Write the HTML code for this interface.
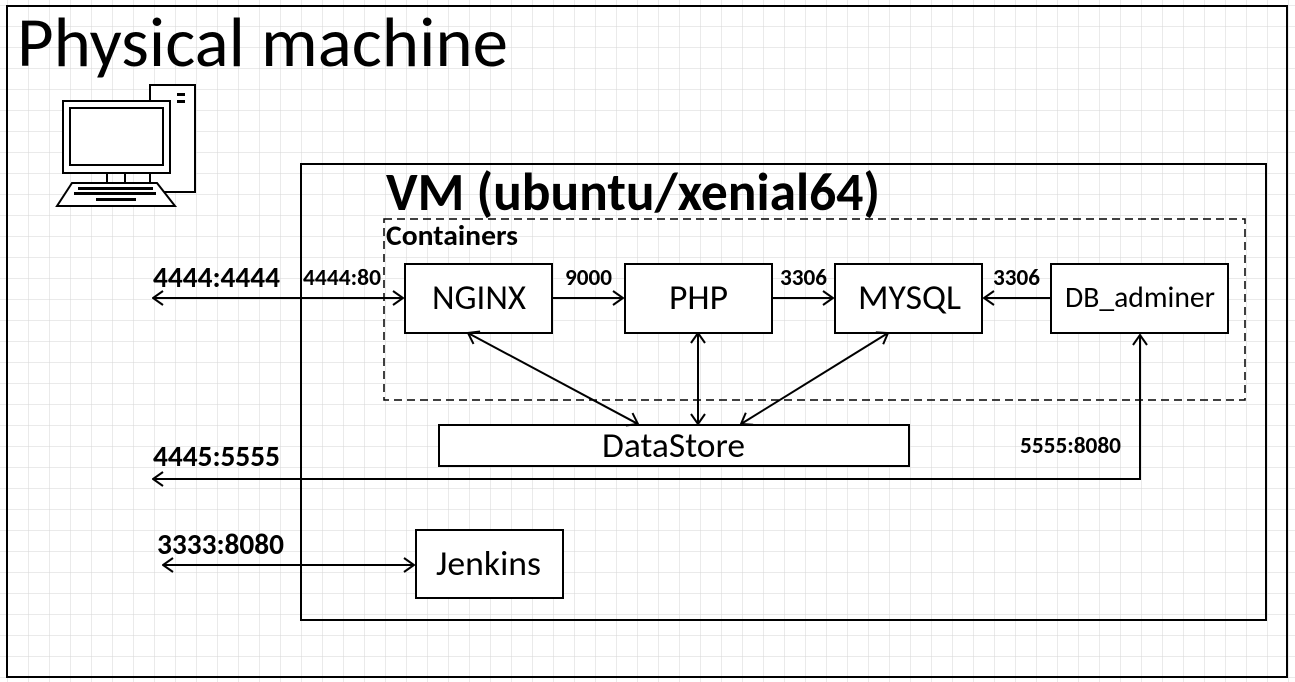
<!DOCTYPE html>
<html><head><meta charset="utf-8"><style>
html,body{margin:0;padding:0;background:#fff}
svg{display:block}
text{font-family:Carlito,"Liberation Sans",sans-serif;fill:#000}
</style></head><body>
<svg width="1295" height="682" viewBox="0 0 1295 682" xmlns="http://www.w3.org/2000/svg">
<defs>
<pattern id="g" x="7" y="5" width="21" height="21" patternUnits="userSpaceOnUse">
<path d="M0 0H21M0 0V21" stroke="#d6d6d6" stroke-width="1" fill="none"/>
</pattern>
<marker id="a" viewBox="0 0 12 16" refX="11" refY="8" markerWidth="12" markerHeight="16" markerUnits="userSpaceOnUse" orient="auto-start-reverse">
<path d="M1 1L11 8L1 15" fill="none" stroke="#000" stroke-width="2"/>
</marker>
</defs>
<rect width="1295" height="682" fill="#fff"/>
<rect width="1295" height="682" fill="url(#g)"/>
<rect x="7" y="6" width="1280" height="671" fill="none" stroke="#000" stroke-width="2"/>
<text x="17" y="66" font-size="70" textLength="491" lengthAdjust="spacingAndGlyphs">Physical machine</text>
<g fill="none" stroke="#000" stroke-width="2">
<rect x="150" y="85" width="45" height="107" fill="#fff"/>
<rect x="63" y="101" width="107" height="72" fill="#fff"/>
<rect x="70" y="108" width="93" height="57"/>
<path d="M107 173V183M125 173V183M150 173V183"/>
<path d="M72 183H157L175 206H57Z" fill="#fff"/>
</g>
<rect x="177" y="93" width="8" height="3"/><rect x="177" y="100" width="8" height="3"/>
<g fill="#000"><rect x="78" y="187" width="75" height="3"/><rect x="74" y="192" width="82" height="3"/><rect x="96" y="198" width="40" height="3"/></g>
<rect x="301" y="164" width="965" height="456" fill="none" stroke="#000" stroke-width="2"/>
<text x="386" y="210" font-size="54" font-weight="bold" textLength="494" lengthAdjust="spacingAndGlyphs">VM (ubuntu/xenial64)</text>
<rect x="384" y="219" width="861" height="181" fill="none" stroke="#000" stroke-width="1.5" stroke-dasharray="8,5"/>
<text x="386" y="245" font-size="28" font-weight="bold" textLength="132" lengthAdjust="spacingAndGlyphs">Containers</text>
<g fill="#fff" stroke="#000" stroke-width="2">
<rect x="405" y="264" width="147" height="69"/>
<rect x="625" y="264" width="147" height="69"/>
<rect x="835" y="264" width="147" height="69"/>
<rect x="1051" y="264" width="177" height="69"/>
<rect x="439" y="425" width="470" height="41"/>
<rect x="416" y="530" width="147" height="68"/>
</g>
<g font-size="35">
<text x="432" y="309" textLength="94" lengthAdjust="spacingAndGlyphs">NGINX</text>
<text x="669" y="309" textLength="59" lengthAdjust="spacingAndGlyphs">PHP</text>
<text x="858" y="309" textLength="103" lengthAdjust="spacingAndGlyphs">MYSQL</text>
<text x="1065" y="307" font-size="30" textLength="150" lengthAdjust="spacingAndGlyphs">DB_adminer</text>
<text x="602" y="457" textLength="143" lengthAdjust="spacingAndGlyphs">DataStore</text>
<text x="436" y="575" textLength="105" lengthAdjust="spacingAndGlyphs">Jenkins</text>
</g>
<g stroke="#000" stroke-width="2" fill="none">
<path d="M153 298H403" marker-start="url(#a)" marker-end="url(#a)"/>
<path d="M552 298H623" marker-end="url(#a)"/>
<path d="M772 298H833" marker-end="url(#a)"/>
<path d="M1051 298H984" marker-end="url(#a)"/>
<path d="M468 333L638 424" marker-start="url(#a)" marker-end="url(#a)"/>
<path d="M698 333V424" marker-start="url(#a)" marker-end="url(#a)"/>
<path d="M888 333L741 424" marker-start="url(#a)" marker-end="url(#a)"/>
<path d="M153 479H1140V335" marker-start="url(#a)" marker-end="url(#a)"/>
<path d="M163 565H414" marker-start="url(#a)" marker-end="url(#a)"/>
</g>
<g font-weight="bold">
<text x="153" y="287" font-size="29" textLength="127" lengthAdjust="spacingAndGlyphs">4444:4444</text>
<text x="303" y="285" font-size="23" textLength="78" lengthAdjust="spacingAndGlyphs">4444:80</text>
<text x="565" y="285" font-size="23" textLength="47" lengthAdjust="spacingAndGlyphs">9000</text>
<text x="780" y="285" font-size="23" textLength="47" lengthAdjust="spacingAndGlyphs">3306</text>
<text x="993" y="285" font-size="23" textLength="47" lengthAdjust="spacingAndGlyphs">3306</text>
<text x="153" y="466" font-size="29" textLength="127" lengthAdjust="spacingAndGlyphs">4445:5555</text>
<text x="1020" y="453" font-size="23" textLength="101" lengthAdjust="spacingAndGlyphs">5555:8080</text>
<text x="157" y="554" font-size="29" textLength="127" lengthAdjust="spacingAndGlyphs">3333:8080</text>
</g>
</svg>
</body></html>
